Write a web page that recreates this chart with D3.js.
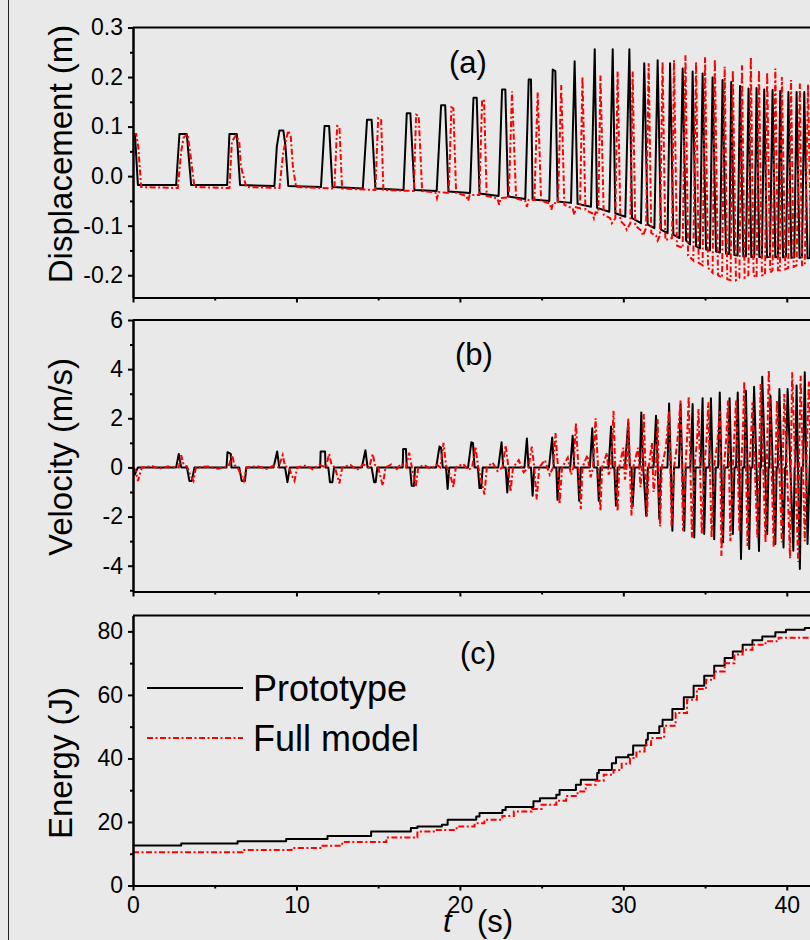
<!DOCTYPE html>
<html>
<head>
<meta charset="utf-8">
<script src="https://cdn.jsdelivr.net/npm/d3@7"></script>
<style>
  html, body { margin: 0; padding: 0; background: #e9e9e9; }
  svg { display: block; font-family: "Liberation Sans", Arial, sans-serif; }
</style>
</head>
<body>
<svg id="chart" width="810" height="940"></svg>
<script>
// ---- data: [t (s), value] ----

// (a) displacement (m)
const dispProto = [
  [0,0.085],[0.12,0.085],[0.3,-0.018],
  [2.64,-0.018],[2.84,0.085],[3.29,0.085],[3.56,-0.018],
  [5.76,-0.018],[5.9,0.085],[6.35,0.085],[6.55,-0.018],
  [8.65,-0.02],[8.8,0.06],[8.96,0.092],[9.2,0.092],[9.33,0.06],[9.5,-0.02],
  [11.5,-0.022],[11.72,0.101],[12.0,0.101],[12.2,-0.022],
  [14.06,-0.025],[14.32,0.114],[14.6,0.114],[14.83,-0.025],
  [16.55,-0.028],[16.75,0.127],[16.97,0.127],[17.22,-0.028],
  [18.58,-0.03],[18.85,0.143],[19.1,0.143],[19.3,-0.031],
  [20.62,-0.034],[20.83,0.158],[21.03,0.158],[21.2,-0.035],
  [22.37,-0.04],[22.58,0.175],[22.78,0.175],[22.95,-0.041],
  [24.0,-0.046],[24.21,0.195],[24.35,0.195],[24.45,-0.047],
  [25.47,-0.05],[25.68,0.215],[25.84,0.212],[25.98,-0.051],
  [26.8,-0.054],[27.02,0.232],[27.2,-0.056],
  [28.02,-0.062],[28.25,0.256],[28.39,-0.064],
  [29.14,-0.072],[29.35,0.256],[29.51,-0.075],
  [30.12,-0.082],[30.37,0.256],[30.53,-0.085],
  [31.08,-0.095],[31.28,0.228],[31.49,-0.098],
  [31.9,-0.105],[32.1,0.234],[32.3,-0.108],
  [32.71,-0.115],[32.86,0.228],[33.06,-0.118],
  [33.43,-0.125],[33.63,0.217],[33.84,-0.13],
  [34.08,-0.138],[34.24,0.211],[34.45,-0.142],
  [34.69,-0.146],[34.85,0.207],[35.06,-0.148],
  [35.3,-0.15],[35.46,0.199],[35.67,-0.152],
  [35.91,-0.154],[36.07,0.194],[36.28,-0.156],
  [36.48,-0.157],[36.6,0.19],[36.79,-0.159],
  [36.99,-0.16],[37.14,0.182],[37.34,-0.162],
  [37.5,-0.162],[37.66,0.177],[37.83,-0.163],
  [38.01,-0.163],[38.15,0.178],[38.32,-0.163],
  [38.48,-0.163],[38.62,0.175],[38.79,-0.164],
  [38.97,-0.163],[39.13,0.174],[39.3,-0.164],
  [39.46,-0.163],[39.6,0.172],[39.77,-0.164],
  [39.95,-0.163],[40.1,0.17],[40.28,-0.165],
  [40.46,-0.164],[40.6,0.17],[40.78,-0.165],
  [40.93,-0.164],[41.07,0.17],[41.27,-0.166],
  [41.42,-0.165],[41.56,0.168],[41.75,-0.166]
];
const dispModel = [
  [0,0.085],[0.2,0.085],[0.32,0.06],[0.5,-0.022],
  [2.74,-0.024],[2.95,0.05],[3.1,0.078],[3.35,0.085],[3.45,0.06],[3.76,-0.022],
  [5.9,-0.024],[6.05,0.07],[6.29,0.082],[6.5,0.07],[6.6,0.02],[6.93,-0.022],
  [8.96,-0.024],[9.2,0.05],[9.5,0.092],[9.65,0.08],[9.78,0.02],[9.98,-0.022],
  [12.32,-0.025],[12.49,0.101],[12.63,0.1],[12.79,-0.025],
  [14.83,-0.028],[15.0,0.117],[15.18,0.115],[15.32,-0.028],
  [17.18,-0.03],[17.32,0.124],[17.48,0.122],[17.69,-0.03],
  [18.5,-0.033],[18.6,-0.045],[18.7,-0.032],
  [19.32,-0.034],[19.48,0.139],[19.6,0.137],[19.77,-0.034],
  [20.4,-0.04],[20.5,-0.05],[20.6,-0.038],
  [21.19,-0.038],[21.36,0.155],[21.48,0.152],[21.64,-0.04],
  [22.3,-0.045],[22.4,-0.058],[22.5,-0.044],
  [22.99,-0.043],[23.19,0.171],[23.44,-0.045],
  [24.0,-0.05],[24.1,-0.062],[24.2,-0.048],
  [24.56,-0.048],[24.76,0.169],[24.97,-0.05],
  [25.5,-0.055],[25.6,-0.068],[25.7,-0.054],
  [26.0,-0.055],[26.2,0.184],[26.39,-0.058],
  [26.9,-0.065],[27.0,-0.078],[27.1,-0.063],
  [27.35,-0.065],[27.5,0.201],[27.68,-0.068],
  [28.1,-0.075],[28.2,-0.085],[28.3,-0.073],
  [28.47,-0.074],[28.6,0.203],[28.8,-0.078],
  [29.2,-0.085],[29.3,-0.095],
  [29.51,-0.085],[29.65,0.211],[29.82,-0.09],
  [30.1,-0.1],[30.2,-0.108],
  [30.43,-0.095],[30.57,0.211],[30.73,-0.1],
  [31.1,-0.11],[31.2,-0.12],
  [31.39,-0.105],[31.55,0.228],[31.71,-0.115],
  [32.0,-0.12],[32.1,-0.13],
  [32.24,-0.12],[32.4,0.231],[32.57,-0.129],
  [32.98,-0.125],[33.1,0.234],[33.28,-0.14],
  [33.63,-0.145],[33.8,0.244],[33.96,-0.16],
  [34.28,-0.17],[34.45,0.231],[34.61,-0.175],
  [34.85,-0.18],[35.0,0.24],[35.18,-0.185],
  [35.46,-0.195],[35.6,0.236],[35.79,-0.2],
  [36.04,-0.205],[36.2,0.221],[36.36,-0.208],
  [36.56,-0.21],[36.7,0.214],[36.89,-0.21],
  [37.1,-0.205],[37.26,0.224],[37.42,-0.205],
  [37.65,-0.2],[37.8,0.24],[37.97,-0.2],
  [38.15,-0.205],[38.3,0.214],[38.48,-0.2],
  [38.67,-0.2],[38.8,0.21],[38.99,-0.195],
  [39.13,-0.19],[39.3,0.217],[39.46,-0.19],
  [39.58,-0.19],[39.7,0.2],[39.91,-0.188],
  [40.09,-0.185],[40.26,0.194],[40.42,-0.183],
  [40.6,-0.18],[40.8,0.187],[40.93,-0.18],
  [41.1,-0.18],[41.3,0.185],[41.5,-0.178]
];

// (b) velocity (m/s)
const velProto = [
  [0,0],[0.1,-0.3],[0.3,0],
  [2.64,0],[2.8,0.55],[2.95,0],[3.3,0],[3.45,-0.55],[3.6,-0.55],[3.76,0],
  [5.72,0],[5.78,0.62],[5.98,0.55],[6.02,0],[6.5,0],[6.65,-0.55],[6.85,-0.55],[6.93,0],
  [8.6,0],[8.82,0.65],[8.95,0],[9.3,0],[9.45,-0.6],[9.6,0],
  [11.45,0],[11.48,0.65],[11.75,0.65],[11.78,0],[11.95,0],[12.05,-0.6],[12.2,-0.6],[12.3,0],
  [14.0,0],[14.22,0.7],[14.35,0],[14.6,0],[14.75,-0.6],[14.85,-0.6],[14.95,0],
  [16.5,0],[16.53,0.75],[16.7,0.75],[16.75,0],[16.95,0],[17.05,-0.75],[17.2,-0.75],[17.25,0],
  [18.55,0],[18.75,0.85],[18.85,0.8],[18.95,0],[19.15,0],[19.25,-0.88],[19.35,0],
  [20.5,0],[20.7,1.02],[20.8,1.0],[20.9,0],[21.1,0],[21.2,-0.84],[21.3,-0.84],[21.4,0],
  [22.35,0],[22.55,1.02],[22.65,0],[22.8,0],[22.9,-1.02],[23.0,0],
  [23.95,0],[24.1,1.18],[24.2,0],[24.35,0],[24.45,-1.15],[24.55,0],
  [25.45,0],[25.65,1.22],[25.75,0],[25.9,0],[25.97,-1.32],[26.1,0],
  [26.75,0],[26.9,1.29],[27.0,0],[27.2,0],[27.3,-1.36],[27.4,0],
  [27.95,0],[28.1,1.59],[28.2,0],[28.4,0],[28.5,-1.36],[28.6,0],
  [29.1,0],[29.25,1.67],[29.35,0],[29.45,0],[29.55,-1.56],[29.65,0],
  [30.1,0],[30.3,1.83],[30.4,0],[30.5,0],[30.57,-1.58],[30.7,0],
  [31.0,0],[31.1,2.24],[31.2,0.2],[31.4,-1.97],[31.5,0],
  [31.85,0],[32.0,2.1],[32.1,0.1],[32.2,-2.1],[32.3,0],
  [32.7,0],[32.8,2.6],[32.9,0.2],[33.0,-2.58],[33.1,0],
  [33.4,0],[33.5,2.58],[33.6,0.2],[33.73,-2.58],[33.82,0],
  [34.1,0],[34.24,2.58],[34.34,-2.85],[34.42,0],
  [34.72,0],[34.85,2.82],[34.95,-2.71],[35.05,0],
  [35.25,0],[35.36,2.82],[35.56,-2.92],[35.65,0],
  [35.8,0],[35.9,3.05],[36.1,-3.05],[36.2,0],
  [36.4,0],[36.5,2.82],[36.7,-2.71],[36.8,0],
  [36.9,0],[37.0,3.05],[37.2,-3.73],[37.3,0],
  [37.4,0],[37.5,3.12],[37.7,-3.32],[37.8,0],
  [37.9,0],[38.0,3.28],[38.3,-3.4],[38.38,0],
  [38.42,0],[38.5,3.69],[38.8,-2.71],[38.88,0],
  [38.92,0],[39.0,2.92],[39.3,-3.12],[39.38,0],
  [39.45,0],[39.55,3.19],[39.8,-3.26],[39.9,0],
  [39.95,0],[40.05,3.19],[40.4,-3.39],[40.48,0],
  [40.52,0],[40.6,3.33],[40.8,-4.13],[40.9,0],
  [41.0,0],[41.1,3.87],[41.27,-3.12],[41.4,0],
  [41.6,3.6],[41.8,-3.5],[42.0,0]
];
const velModel = [
  [0,0],[0.15,-0.1],[0.3,-0.55],[0.45,-0.2],[0.55,0],
  [1.2,0.05],[1.6,-0.05],[2.1,0.04],
  [2.8,0],[2.95,0.5],[3.1,0.1],[3.3,0.05],[3.5,-0.3],[3.7,-0.55],[3.85,0],
  [4.6,0.04],[5.2,-0.05],
  [5.85,0.05],[6.07,0.5],[6.2,0.1],[6.4,0],[6.6,-0.3],[6.78,-0.55],[6.95,0],
  [7.6,0.05],[8.2,-0.06],[8.6,0.08],
  [8.9,0],[9.16,0.5],[9.3,0.05],[9.55,0],[9.7,-0.3],[9.88,-0.55],[10.05,0],
  [10.6,0.08],[11.0,-0.08],[11.4,0.1],
  [11.8,0],[12.0,0.55],[12.15,0.1],[12.35,0],[12.5,-0.35],[12.63,-0.65],[12.8,0],
  [13.3,0.1],[13.7,-0.1],[14.1,0.12],
  [14.45,0],[14.67,0.55],[14.8,0.1],[15.0,0],[15.15,-0.4],[15.28,-0.75],[15.45,0],
  [15.8,0.12],[16.1,-0.1],[16.4,0.15],
  [16.7,0],[16.9,0.6],[17.05,0.05],[17.3,-0.8],[17.45,0],
  [17.8,0.1],[18.2,-0.05],[18.6,0.1],
  [18.8,0],[19.0,1.0],[19.15,0.1],[19.45,-0.4],[19.6,-0.8],[19.75,0],
  [20.2,0.15],[20.5,-0.1],[20.75,0],[20.95,0.85],[21.1,0.1],[21.5,-1.1],[21.65,0],
  [22.0,0.2],[22.3,-0.15],[22.6,0],[22.8,0.9],[22.95,0.1],[23.1,-1.0],[23.25,0],
  [23.6,0.3],[23.9,-0.2],[24.2,0],[24.4,0.85],[24.55,0],[24.7,-1.3],[24.85,0],
  [25.2,0.3],[25.5,-0.3],[25.7,0],[25.85,1.4],[26.0,0],[26.1,-1.5],[26.25,0],
  [26.6,0.4],[26.8,-0.3],[26.95,0],[27.1,1.8],[27.25,0],[27.4,-1.7],[27.5,0],
  [27.8,0.5],[28.0,-0.4],[28.15,0],[28.3,2.0],[28.45,0],[28.6,-1.78],[28.7,0],
  [29.0,0.6],[29.1,-0.3],[29.25,0],[29.4,2.3],[29.5,0],[29.65,-1.78],[29.75,0],
  [30.0,0.8],[30.1,-0.5],[30.2,0],[30.3,2.0],[30.4,0],[30.5,-1.97],[30.6,0],
  [30.9,0.8],[31.05,-0.8],[31.15,0],[31.25,2.17],[31.35,0],[31.45,-2.0],[31.55,0],
  [31.75,1.0],[31.85,-1.0],[32.0,0],[32.1,1.97],[32.15,0],[32.25,-2.4],[32.35,0],
  [32.6,0.8],[32.8,2.3],[32.95,-2.4],[33.1,0],
  [33.3,1.0],[33.5,2.72],[33.65,-2.58],[33.8,0],
  [33.9,1.2],[34.0,2.9],[34.2,-2.85],[34.35,0],
  [34.5,1.0],[34.6,2.38],[34.8,-2.71],[34.95,0],
  [35.1,1.2],[35.2,2.65],[35.4,-2.85],[35.55,0],
  [35.75,1.0],[35.9,2.3],[36.0,-3.6],[36.15,0],
  [36.3,1.2],[36.4,2.72],[36.55,-3.0],[36.7,0],
  [36.8,1.4],[36.9,2.72],[37.1,-2.58],[37.2,0],
  [37.3,1.2],[37.4,3.5],[37.6,-3.2],[37.7,0],
  [37.8,1.0],[37.9,2.65],[38.2,-2.85],[38.3,0],
  [38.35,1.5],[38.4,3.39],[38.7,-3.05],[38.78,0],
  [38.82,1.5],[38.9,3.96],[39.2,-3.26],[39.3,0],
  [39.35,1.2],[39.4,2.72],[39.7,-3.05],[39.75,0],
  [39.78,1.0],[39.85,2.99],[40.2,-3.7],[40.25,0],
  [40.28,1.5],[40.33,3.87],[40.7,-3.85],[40.75,0],
  [40.78,1.5],[40.85,3.73],[41.1,-3.0],[41.2,0],
  [41.35,3.5],[41.6,-3.3],[42.0,0]
];

// (c) energy (J), step values
const energyProto = [
  [0,12.6],[2.95,13.2],[6.4,13.9],[9.37,14.6],[11.9,15.6],[14.57,17.0],
  [17.0,18.1],[17.4,18.6],[18.9,19.1],[19.25,20.7],[21.0,21.7],[21.2,22.8],
  [22.6,23.8],[22.8,24.7],[24.5,26.5],[24.9,27.5],[25.9,28.6],[26.1,30.1],
  [27.1,31.7],[27.4,33.3],[28.4,35.4],[28.5,36.4],[29.3,38.5],[29.55,40.4],
  [30.3,41.2],[30.6,44.1],[31.4,45.9],[31.5,48.0],[32.2,50.1],[32.4,52.2],
  [33.0,55.6],[33.7,59.3],[34.3,62.9],[34.95,66.0],[35.56,69.2],[36.2,71.6],
  [36.7,73.7],[37.3,75.8],[37.9,77.2],[38.5,78.4],[39.3,79.7],[39.95,80.5],
  [41.1,81.1],[45,81.1]
];
const energyModel = [
  [0,10.5],[6.7,11.2],[9.7,11.8],[11.6,12.5],[12.8,13.7],[15.5,15.1],
  [17.4,17.0],[18.4,17.5],[19.8,18.6],[20.9,19.6],[21.5,20.7],[22.6,21.9],
  [23.3,23.3],[24.4,24.1],[25.0,25.4],[25.9,26.7],[26.5,28.2],[27.2,29.6],
  [27.7,31.7],[28.3,33.0],[28.8,34.9],[29.4,36.4],[29.9,38.3],[30.4,40.1],
  [30.8,42.2],[31.3,44.2],[31.7,46.4],[32.5,50.3],[33.2,54.3],[33.9,58.5],
  [34.5,61.9],[35.06,64.8],[35.56,67.4],[36.2,70.0],[36.8,72.7],[37.3,74.2],
  [37.9,75.8],[38.7,76.9],[39.5,78.0],[45,78.0]
];

// ticks
const xMajor = [0, 10, 20, 30, 40];
const xMinor = [5, 15, 25, 35, 45];
const dispTicks = [-0.2, -0.1, 0, 0.1, 0.2, 0.3];
const dispMinor = [-0.15, -0.05, 0.05, 0.15, 0.25];
const velTicks = [-4, -2, 0, 2, 4, 6];
const velMinor = [-5, -3, -1, 1, 3, 5];
const energyTicks = [0, 20, 40, 60, 80];
const energyMinor = [10, 30, 50, 70];

const seriesNames = ["Prototype", "Full model"];

// ---- drawing ----
const X0 = 133;
const RED_DASH = "6,2.5,2,2.5";
const svg = d3.select("#chart");

svg.append("rect").attr("width", 810).attr("height", 940).attr("fill", "#e9e9e9");
svg.append("line")
  .attr("x1", 8.5).attr("x2", 8.5).attr("y1", 0).attr("y2", 940)
  .attr("stroke", "#222").attr("stroke-width", 1);

const x = d3.scaleLinear().domain([0, 45]).range([X0, 868.5]);

const panels = [
  { id: "a", series: [dispProto, dispModel], domain: [-0.245, 0.3], range: [297.5, 27.5],
    ticks: dispTicks, minor: dispMinor, fmt: d => d.toFixed(1),
    title: "Displacement (m)", titleY: 154, tag: "(a)", tagX: 468, tagY: 73, step: false },
  { id: "b", series: [velProto, velModel], domain: [-5.05, 6], range: [591.5, 320],
    ticks: velTicks, minor: velMinor, fmt: d => String(d),
    title: "Velocity (m/s)", titleY: 457, tag: "(b)", tagX: 474, tagY: 365, step: false },
  { id: "c", series: [energyProto, energyModel], domain: [0, 85], range: [885.5, 615.5],
    ticks: energyTicks, minor: energyMinor, fmt: d => String(d),
    title: "Energy (J)", titleY: 763, tag: "(c)", tagX: 478, tagY: 664, step: true }
];

function styleAxis(g) {
  g.attr("font-size", null).attr("font-family", null);
  g.selectAll("path.domain").attr("stroke", "#000").attr("stroke-width", 2);
  g.selectAll(".tick line").attr("stroke", "#000").attr("stroke-width", 2);
  g.selectAll(".tick text").attr("fill", "#000").style("font-size", "23px");
}

panels.forEach(p => {
  const y = d3.scaleLinear().domain(p.domain).range(p.range);
  const g = svg.append("g").attr("class", "panel-" + p.id);
  const bottom = p.range[0], top = p.range[1];

  g.append("clipPath").attr("id", "clip-" + p.id)
    .append("rect").attr("x", X0).attr("y", top).attr("width", 800).attr("height", bottom - top);

  // series
  const line = d3.line()
    .x(d => x(d[0]))
    .y(d => y(d[1]))
    .curve(p.step ? d3.curveStepAfter : d3.curveLinear);

  const plot = g.append("g").attr("clip-path", `url(#clip-${p.id})`);
  plot.append("path").datum(p.series[0])
    .attr("fill", "none").attr("stroke", "#000").attr("stroke-width", 2)
    .attr("stroke-linejoin", "round").attr("d", line);
  plot.append("path").datum(p.series[1])
    .attr("fill", "none").attr("stroke", "#ff0000").attr("stroke-width", 2)
    .attr("stroke-dasharray", RED_DASH).attr("d", line);

  // y axis
  g.append("g").attr("transform", `translate(${X0},0)`)
    .call(d3.axisLeft(y).tickValues(p.ticks).tickFormat(p.fmt).tickSize(5).tickSizeOuter(0).tickPadding(5))
    .call(styleAxis);
  g.append("g").attr("transform", `translate(${X0},0)`)
    .call(d3.axisLeft(y).tickValues(p.minor).tickFormat("").tickSize(3).tickSizeOuter(0))
    .call(styleAxis);

  // x axis (labels only on the last panel)
  g.append("g").attr("transform", `translate(0,${bottom})`)
    .call(d3.axisBottom(x).tickValues(xMajor).tickFormat(p.id === "c" ? d => String(d) : "")
      .tickSize(5).tickSizeOuter(0).tickPadding(6))
    .call(styleAxis);
  g.append("g").attr("transform", `translate(0,${bottom})`)
    .call(d3.axisBottom(x).tickValues(xMinor).tickFormat("").tickSize(3).tickSizeOuter(0))
    .call(styleAxis);

  // top frame
  g.append("line").attr("x1", X0).attr("x2", 870).attr("y1", top).attr("y2", top)
    .attr("stroke", "#000").attr("stroke-width", 2);

  // axis title
  g.append("text")
    .attr("transform", `translate(72,${p.titleY}) rotate(-90)`)
    .attr("text-anchor", "middle")
    .style("font-size", "33px").attr("fill", "#000")
    .text(p.title);

  // panel tag
  g.append("text")
    .attr("x", p.tagX).attr("y", p.tagY)
    .attr("text-anchor", "middle")
    .style("font-size", "31px").attr("fill", "#000")
    .text(p.tag);
});

// legend (panel c)
const legend = svg.append("g");
[0, 1].forEach(i => {
  const ly = 688 + i * 50;
  legend.append("line")
    .attr("x1", 147).attr("x2", 243).attr("y1", ly).attr("y2", ly)
    .attr("stroke", i === 0 ? "#000" : "#ff0000").attr("stroke-width", 2)
    .attr("stroke-dasharray", i === 0 ? null : RED_DASH);
  legend.append("text")
    .attr("x", 253).attr("y", ly + 13)
    .style("font-size", "36px").attr("fill", "#000")
    .text(seriesNames[i]);
});

// x axis title (sits just under the "20" label, as in the source figure)
svg.append("text").attr("x", 443).attr("y", 932)
  .style("font-size", "31px").style("font-style", "italic").attr("fill", "#000").text("t");
svg.append("text").attr("x", 477).attr("y", 932)
  .style("font-size", "31px").attr("fill", "#000").text("(s)");
</script>
</body>
</html>
